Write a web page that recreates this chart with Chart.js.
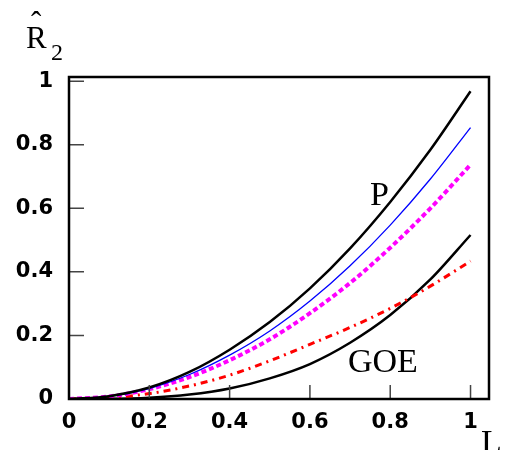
<!DOCTYPE html>
<html>
<head>
<meta charset="utf-8">
<script src="https://cdn.jsdelivr.net/npm/chart.js@4.4.0/dist/chart.umd.min.js"></script>
<style>
  html, body { margin: 0; padding: 0; background: #fff; }
  #wrap { width: 505px; height: 450px; position: relative; }
</style>
</head>
<body>
<div id="wrap"><canvas id="chart"></canvas></div>
<script>
// values
const xValues = [0, 0.1, 0.2, 0.3, 0.4, 0.5, 0.6, 0.7, 0.8, 0.9, 1.0];
const poisson = [0, 0.009, 0.036, 0.085, 0.155, 0.242, 0.348, 0.474, 0.620, 0.784, 0.968];
const blueCurve = [0, 0.008, 0.033, 0.077, 0.138, 0.214, 0.308, 0.419, 0.547, 0.692, 0.854];
const magentaCurve = [0, 0.008, 0.031, 0.069, 0.122, 0.188, 0.270, 0.365, 0.476, 0.600, 0.737];
const redCurve = [0, 0.004, 0.017, 0.041, 0.075, 0.120, 0.172, 0.225, 0.285, 0.355, 0.434];
const goe = [0, 0.0005, 0.004, 0.014, 0.033, 0.065, 0.110, 0.177, 0.264, 0.376, 0.516];
const xTicks = [0, 0.2, 0.4, 0.6, 0.8, 1];
const yTicks = [0, 0.2, 0.4, 0.6, 0.8, 1];

const toPoints = (ys) => xValues.map((x, i) => ({ x: x, y: ys[i] }));
const fmt = (v) => String(Math.round(v * 10) / 10);

// frame, inward ticks and the text labels
const framePlugin = {
    id: 'frame',
    afterDraw(chart) {
        const ctx = chart.ctx;
        const { left, right, top, bottom } = chart.chartArea;
        const xs = chart.scales.x;
        const ys = chart.scales.y;
        ctx.save();
        ctx.strokeStyle = '#444';
        ctx.lineWidth = 1.5;
        ctx.beginPath();
        xTicks.forEach(v => {
            const px = xs.getPixelForValue(v);
            ctx.moveTo(px, bottom);
            ctx.lineTo(px, bottom - 14);
        });
        yTicks.forEach(v => {
            const py = ys.getPixelForValue(v);
            ctx.moveTo(left, py);
            ctx.lineTo(left + 15, py);
        });
        ctx.stroke();

        ctx.strokeStyle = '#000';
        ctx.lineWidth = 2.5;
        ctx.strokeRect(left, top, right - left, bottom - top);

        ctx.fillStyle = '#000';
        ctx.textBaseline = 'alphabetic';
        ctx.textAlign = 'left';
        ctx.font = '34px "Liberation Serif", serif';
        ctx.fillText('P', 370, 205);
        ctx.fillText('GOE', 348, 372);
        ctx.fillText('L', 481, 453);

        ctx.font = '31px "Liberation Serif", serif';
        ctx.fillText('R', 26, 48);
        ctx.fillText('\u02C6', 31, 33);
        ctx.font = '24px "Liberation Serif", serif';
        ctx.fillText('2', 51, 60);
        ctx.restore();
    }
};

const tickFont = { family: '"DejaVu Sans", sans-serif', size: 21, weight: 'bold' };

new Chart(document.getElementById('chart'), {
    type: 'line',
    data: {
        datasets: [
            { data: toPoints(poisson), borderColor: '#000', borderWidth: 2.5 },
            { data: toPoints(blueCurve), borderColor: '#0000ff', borderWidth: 1.3 },
            { data: toPoints(magentaCurve), borderColor: '#ff00ff', borderWidth: 4, borderDash: [5, 3] },
            { data: toPoints(redCurve), borderColor: '#ff0000', borderWidth: 3, borderDash: [7, 5, 2, 5] },
            { data: toPoints(goe), borderColor: '#000', borderWidth: 2.5 }
        ]
    },
    options: {
        responsive: true,
        maintainAspectRatio: false,
        animation: false,
        layout: { padding: { top: 77, right: 16, left: 0, bottom: 0 } },
        elements: {
            point: { radius: 0 },
            line: { cubicInterpolationMode: 'monotone', fill: false }
        },
        plugins: {
            legend: { display: false },
            tooltip: { enabled: false }
        },
        scales: {
            x: {
                type: 'linear',
                min: 0,
                max: 1.046,
                grid: { display: false, drawTicks: false },
                border: { display: false },
                afterBuildTicks: (scale) => { scale.ticks = xTicks.map(v => ({ value: v })); },
                afterFit: (scale) => { scale.height = 51; },
                ticks: {
                    color: '#000',
                    font: tickFont,
                    padding: 11,
                    maxRotation: 0,
                    autoSkip: false,
                    callback: (v) => fmt(v)
                }
            },
            y: {
                min: 0,
                max: 1.013,
                grid: { display: false, drawTicks: false },
                border: { display: false },
                afterBuildTicks: (scale) => { scale.ticks = yTicks.map(v => ({ value: v })); },
                afterFit: (scale) => { scale.width = 69; },
                ticks: {
                    color: '#000',
                    font: tickFont,
                    padding: 16,
                    autoSkip: false,
                    callback: (v) => fmt(v)
                }
            }
        }
    },
    plugins: [framePlugin]
});
</script>
</body>
</html>
